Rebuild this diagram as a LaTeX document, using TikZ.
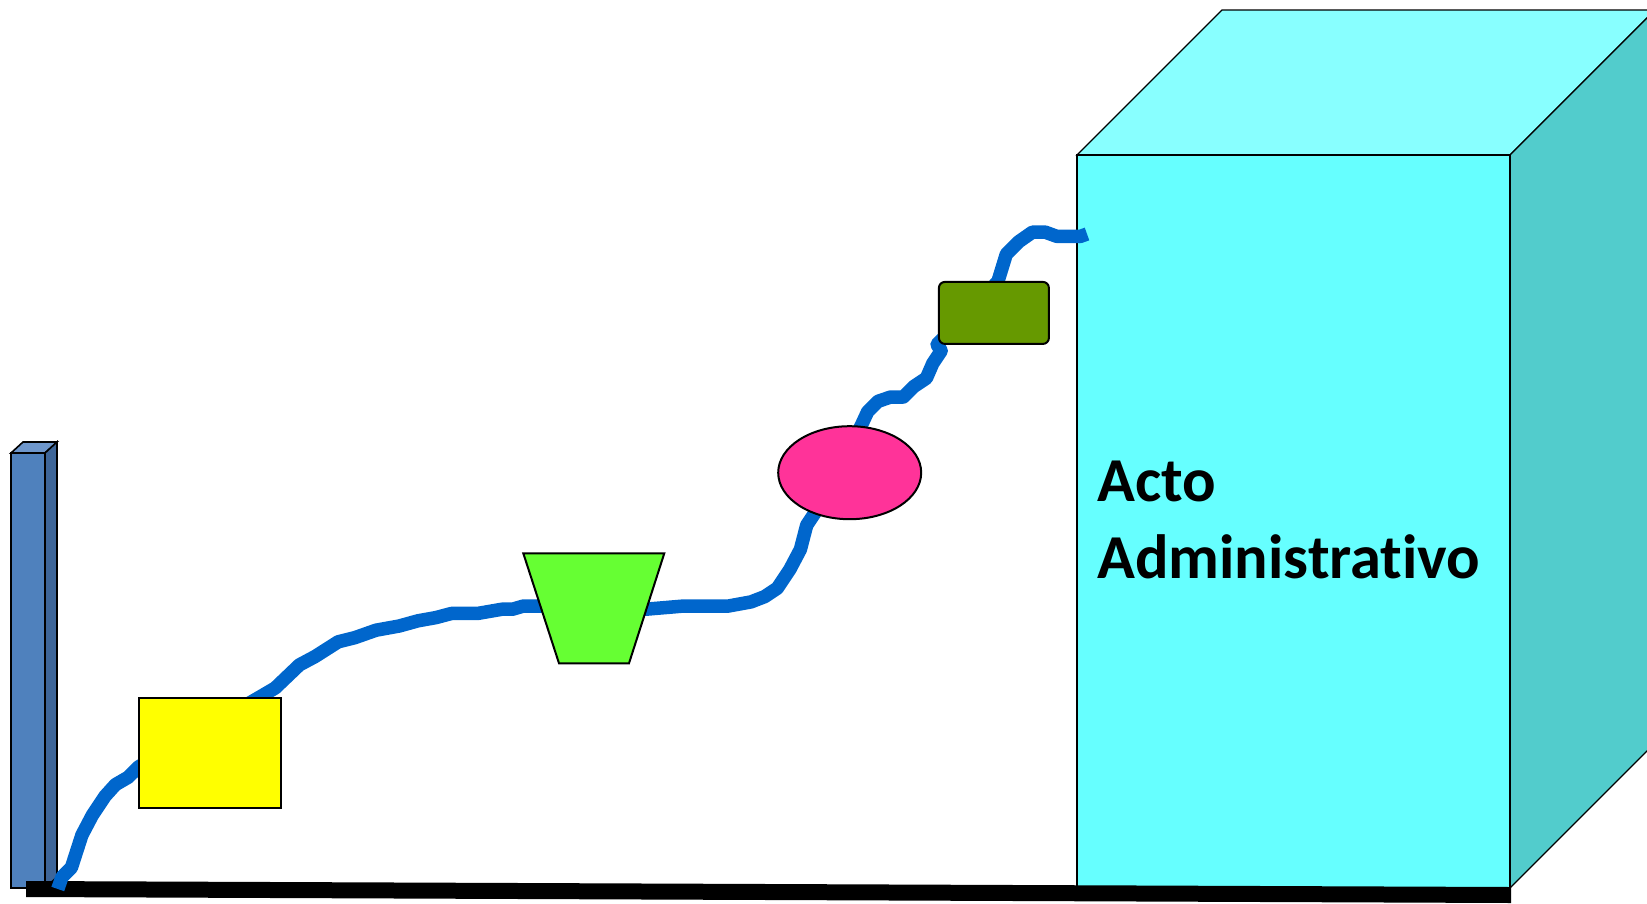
\documentclass[tikz,border=0pt]{standalone}
\usepackage{fontspec}
\setmainfont{Carlito}[Ligatures=NoCommon,RawFeature=-liga]
\usetikzlibrary{shapes.geometric}
\definecolor{cubefront}{HTML}{66FFFF}
\definecolor{cubetop}{HTML}{88FFFF}
\definecolor{cubeside}{HTML}{52CCCC}
\definecolor{barfront}{HTML}{4F81BD}
\definecolor{barside}{HTML}{3E6699}
\definecolor{bartop}{HTML}{6E97CC}
\definecolor{wire}{HTML}{0066CC}
\definecolor{shapeyellow}{HTML}{FFFF00}
\definecolor{shapegreen}{HTML}{66FF33}
\definecolor{shapepink}{HTML}{FF3399}
\definecolor{shapeolive}{HTML}{669900}
\tikzset{
  edge/.style={draw=black, line width=1.6pt, line join=miter},
  thinedge/.style={draw=black, line width=1.3pt},
  shapebox/.style={draw=black, line width=2pt, inner sep=0pt},
  wireline/.style={draw=wire, line width=13.5pt, line join=round, line cap=butt},
  label/.style={inner sep=0pt, anchor=base west, font=\bfseries\fontsize{62.5}{77}\selectfont}
}
\begin{document}
\begin{tikzpicture}[x=1pt,y=-1pt]
\useasboundingbox (0,0) rectangle (1647,903);
\clip (0,0) rectangle (1647,903);
% cube
\filldraw[thinedge, fill=cubetop] (1077,155) -- (1222,10) -- (1655,10) -- (1510,155) -- cycle;
\filldraw[thinedge, fill=cubeside] (1510,155) -- (1655,10) -- (1655,743) -- (1510,888) -- cycle;
\filldraw[thinedge, fill=cubefront] (1077,155) rectangle (1510,888);
\node[label] (acto1) at (1097,501) {Acto};
\node[label] (acto2) at (1097,578) {Administrativo};
% left column
\filldraw[edge, fill=bartop] (11,453) -- (23,442) -- (57,442) -- (45,453) -- cycle;
\filldraw[edge, fill=barside] (45,453) -- (57,442) -- (57,877) -- (45,888) -- cycle;
\filldraw[edge, fill=barfront] (11,453) rectangle (45,888);
% ground bar
\fill[black] (26,881) -- (1511,887) -- (1511,903) -- (26,897) -- cycle;
% wire
\draw[wireline] (57.8,889) -- (62,877) -- (71.4,867.6) -- (81.9,835.1) -- (92.4,815.1) -- (105,796.2)
  -- (115.5,784.6) -- (128.1,777.3) -- (138.7,766.8) -- (257.3,698.5) -- (275.2,688) -- (299.4,664.9)
  -- (315.1,656.5) -- (338.2,641.8) -- (355,637.6) -- (376,630.2) -- (399.2,626) -- (418,620.8)
  -- (435.9,617.6) -- (451.7,613.4) -- (477.9,613.4) -- (502.1,609.2) -- (512.6,609.2) -- (523.1,606.1)
  -- (541,606.1) -- (646,609.2) -- (682.8,606.1) -- (728,606.1) -- (751,601.9) -- (764.7,596.6)
  -- (777.3,588.2) -- (789.9,569.3) -- (800.4,549.4) -- (806.7,525.2) -- (817.2,509.4)
  -- (861.3,425.4) -- (867.6,411.8) -- (878.1,401.3) -- (890.7,397) -- (903.3,397) -- (913.9,386.5)
  -- (926.4,378.1) -- (932.8,363.4) -- (941.2,350.8) -- (937,344.5) -- (943.3,338.2)
  -- (997.9,281.5) -- (1006.3,254.2) -- (1018.9,241.6) -- (1032.5,232.1) -- (1045.1,232.1)
  -- (1056.7,236.3) -- (1071.4,236.3) -- (1080,236.5) -- (1087,234);
% shapes
\node[shapebox, fill=shapeyellow, minimum width=142pt, minimum height=110pt] (yellowbox) at (209.8,752.7) {};
\filldraw[shapebox, fill=shapegreen] (523.3,553.3) -- (664.3,553.3) -- (629,663.3) -- (559,663.3) -- cycle;
\coordinate (greentrap) at (593.8,608.3);
\node[shapebox, ellipse, fill=shapepink, minimum width=143pt, minimum height=93pt] (pinkoval) at (849.7,472.7) {};
\node[shapebox, fill=shapeolive, rounded corners=6pt, minimum width=110pt, minimum height=62pt] (olivebox) at (993.9,312.9) {};
\end{tikzpicture}
\end{document}
